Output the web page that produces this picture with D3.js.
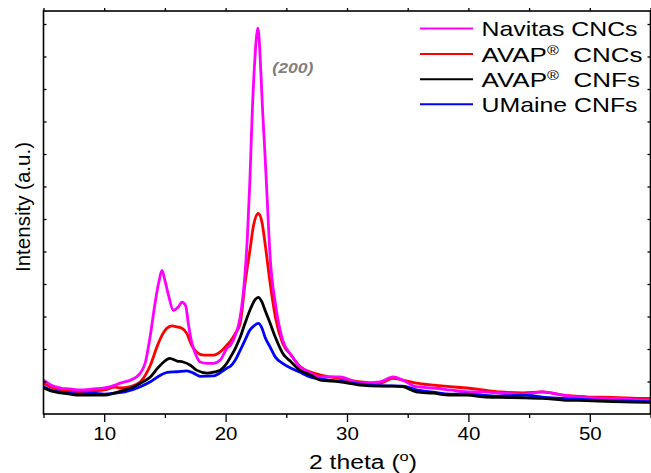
<!DOCTYPE html>
<html>
<head>
<meta charset="utf-8">
<script src="https://cdn.jsdelivr.net/npm/d3@7"></script>
<style>
  html, body { margin: 0; padding: 0; background: #fff; }
  svg { display: block; }
  text { font-family: Arial, "Liberation Sans", sans-serif; }
</style>
</head>
<body>
<svg id="chart" width="651" height="473"></svg>
<script>
// XRD patterns: [2θ (deg), intensity (a.u.)]
const navitasCNC = [
  [5.0,1.04],[5.6,0.89],[6.4,0.80],[7.2,0.77],[8.0,0.74],[9.1,0.77],[10.0,0.80],[10.9,0.89],
  [11.3,0.95],[11.7,0.99],[12.15,1.04],[12.98,1.26],[13.4,1.60],[13.8,2.42],[14.2,3.44],
  [14.5,4.06],[14.76,4.42],[15.0,4.11],[15.3,3.65],[15.7,3.19],[16.1,3.29],[16.4,3.44],
  [16.7,3.34],[16.95,2.73],[17.2,2.22],[17.5,1.87],[17.9,1.60],[18.46,1.56],[19.0,1.56],
  [19.56,1.66],[20.1,2.02],[20.4,2.12],[20.8,2.42],[21.2,2.98],[21.6,4.33],[21.8,5.49],
  [22.0,7.18],[22.2,9.33],[22.4,10.86],[22.55,11.63],[22.65,11.87],[22.75,11.63],[22.9,10.55],
  [23.05,9.33],[23.25,7.94],[23.4,6.81],[23.67,4.82],[24.1,3.40],[24.7,2.27],[25.4,1.81],
  [26.1,1.47],[27.0,1.26],[27.8,1.14],[29.4,1.14],[31.1,0.95],[32.7,0.99],[33.8,1.14],
  [34.6,1.04],[35.7,0.84],[37.1,0.80],[38.5,0.74],[39.9,0.68],[41.2,0.68],[42.6,0.64],
  [44.5,0.61],[46.1,0.68],[47.8,0.58],[49.7,0.50],[51.9,0.48],[54.7,0.43],[55.0,0.43]
];
const avapCNC = [
  [5.0,0.95],[5.6,0.83],[6.4,0.74],[7.2,0.71],[8.0,0.67],[9.1,0.71],[10.0,0.74],[10.9,0.83],
  [11.3,0.80],[12.15,0.84],[12.98,0.99],[13.4,1.20],[13.8,1.50],[14.4,2.12],[14.76,2.42],
  [15.2,2.65],[15.6,2.71],[16.0,2.68],[16.4,2.64],[16.8,2.48],[17.2,2.12],[17.6,1.91],
  [18.2,1.81],[19.0,1.81],[19.56,1.91],[20.1,2.12],[20.4,2.24],[20.8,2.48],[21.2,2.79],
  [21.6,4.02],[22.0,5.03],[22.3,5.80],[22.7,6.17],[23.0,5.89],[23.25,5.25],[23.67,4.02],
  [24.1,2.98],[24.7,2.18],[25.4,1.81],[26.1,1.47],[27.0,1.29],[27.8,1.20],[29.4,1.10],
  [31.1,0.99],[32.7,0.95],[33.8,1.10],[34.6,1.04],[35.7,0.95],[37.1,0.89],[38.5,0.84],
  [39.9,0.80],[41.2,0.74],[42.6,0.68],[44.5,0.65],[46.1,0.68],[47.8,0.58],[49.7,0.53],
  [51.9,0.51],[54.7,0.48],[55.0,0.48]
];
const avapCNF = [
  [5.0,0.80],[5.6,0.71],[6.4,0.65],[7.2,0.61],[8.0,0.58],[9.1,0.58],[10.0,0.58],[10.9,0.65],
  [11.7,0.74],[12.4,0.83],[13.0,0.95],[13.8,1.14],[14.4,1.41],[14.9,1.60],[15.4,1.71],
  [16.0,1.63],[16.5,1.60],[17.1,1.50],[17.6,1.35],[18.5,1.26],[19.0,1.29],[19.56,1.35],
  [20.1,1.56],[20.4,1.75],[20.8,2.02],[21.2,2.36],[21.6,2.79],[22.0,3.19],[22.3,3.44],
  [22.7,3.59],[23.0,3.44],[23.25,3.19],[23.67,2.79],[24.1,2.36],[24.7,1.87],[25.4,1.60],
  [26.1,1.35],[27.0,1.20],[27.8,1.04],[29.4,0.99],[31.1,0.89],[32.7,0.86],[33.8,0.86],
  [34.6,0.84],[35.7,0.68],[37.1,0.64],[38.5,0.58],[39.9,0.58],[41.2,0.53],[42.6,0.51],
  [44.5,0.50],[46.1,0.48],[47.8,0.43],[49.7,0.41],[51.9,0.38],[54.7,0.36],[55.0,0.36]
];
const umaineCNF = [
  [5.0,0.84],[5.6,0.74],[6.4,0.67],[7.2,0.64],[8.0,0.61],[9.1,0.64],[10.0,0.61],[10.9,0.64],
  [11.7,0.68],[12.98,0.84],[13.8,0.99],[14.4,1.14],[15.2,1.28],[16.0,1.30],[16.8,1.33],
  [17.4,1.25],[17.9,1.16],[19.0,1.17],[20.1,1.41],[20.4,1.47],[20.8,1.66],[21.2,1.96],
  [21.6,2.27],[22.0,2.58],[22.3,2.70],[22.7,2.79],[23.0,2.64],[23.25,2.36],[23.67,2.06],
  [24.1,1.75],[24.7,1.56],[25.4,1.41],[26.1,1.29],[27.0,1.13],[27.8,1.07],[29.4,1.01],
  [31.1,0.92],[32.7,0.87],[34.6,0.86],[35.7,0.74],[37.1,0.67],[38.5,0.61],[39.9,0.61],
  [41.2,0.58],[42.6,0.55],[44.5,0.58],[46.1,0.52],[47.8,0.48],[49.7,0.44],[51.9,0.41],
  [54.7,0.38],[55.0,0.38]
];

// legend order (top to bottom) and drawing order
const seriesNames = ["Navitas CNCs", "AVAP® CNCs", "AVAP® CNFs", "UMaine CNFs"];
const seriesData = [navitasCNC, avapCNC, avapCNF, umaineCNF];
const seriesColors = ["#ff00ff", "#ff0000", "#000000", "#0000ff"];
const drawOrder = [1, 0, 3, 2];

const xMajorTicks = [10, 20, 30, 40, 50];
const xMinorTicks = [5, 15, 25, 35, 45, 55];
const xTickLabels = ["10", "20", "30", "40", "50"];
const yTicks = [1, 2, 3, 4, 5, 6, 7, 8, 9, 10, 11, 12];
const peakLabel = "(200)";
const peakPos = [23.85, 10.5];

const svg = d3.select("#chart");
const plotLeft = 43.5, plotRight = 650.5, plotTop = 11, plotBottom = 414;

const x = d3.scaleLinear().domain([5, 55]).range([plotLeft, plotRight]);
const y = d3.scaleLinear().domain([0, 12.4]).range([plotBottom, plotTop]);

// curves
const line = d3.line()
  .x(d => x(d[0]))
  .y(d => y(d[1]))
  .curve(d3.curveMonotoneX);

const plot = svg.append("g");
drawOrder.forEach(i => {
  plot.append("path")
    .datum(seriesData[i])
    .attr("fill", "none")
    .attr("stroke", seriesColors[i])
    .attr("stroke-width", 2.8)
    .attr("stroke-linejoin", "round")
    .attr("d", line);
});

// axes
function styleAxis(g) {
  g.select(".domain").remove();
  g.selectAll(".tick line").attr("stroke", "#000").attr("stroke-width", 1.3);
}

const xMajor = svg.append("g")
  .attr("transform", `translate(0,${plotBottom})`)
  .call(d3.axisBottom(x).tickValues(xMajorTicks).tickSize(8)
    .tickFormat((d, i) => xTickLabels[i]).tickPadding(5))
  .call(styleAxis);
xMajor.selectAll(".tick text")
  .attr("fill", "#000")
  .style("font-size", "18px")
  .attr("transform", "scale(1.14,1)");

svg.append("g")
  .attr("transform", `translate(0,${plotBottom})`)
  .call(d3.axisBottom(x).tickValues(xMinorTicks).tickSize(4).tickFormat(""))
  .call(styleAxis);

svg.append("g")
  .attr("transform", `translate(0,${plotTop})`)
  .call(d3.axisTop(x).tickValues(xMinorTicks.concat(xMajorTicks)).tickSize(3).tickFormat(""))
  .call(styleAxis);

svg.append("g")
  .attr("transform", `translate(${plotLeft},0)`)
  .call(d3.axisLeft(y).tickValues(yTicks).tickSize(-3).tickFormat(""))
  .call(styleAxis);

svg.append("g")
  .attr("transform", `translate(${plotRight},0)`)
  .call(d3.axisRight(y).tickValues(yTicks).tickSize(-3).tickFormat(""))
  .call(styleAxis);

// frame
svg.append("rect")
  .attr("x", plotLeft).attr("y", plotTop)
  .attr("width", plotRight - plotLeft).attr("height", plotBottom - plotTop)
  .attr("fill", "none").attr("stroke", "#000").attr("stroke-width", 1.6);

// axis titles
const xt = svg.append("text")
  .attr("x", 363).attr("y", 469)
  .attr("text-anchor", "middle")
  .attr("textLength", 108).attr("lengthAdjust", "spacingAndGlyphs")
  .style("font-size", "19.5px");
xt.append("tspan").text("2 theta (");
xt.append("tspan").attr("dy", -8).style("font-size", "13px").text("o");
xt.append("tspan").attr("dy", 8).text(")");

svg.append("text")
  .attr("transform", "translate(29.5,207) rotate(-90)")
  .attr("text-anchor", "middle")
  .attr("textLength", 130).attr("lengthAdjust", "spacingAndGlyphs")
  .style("font-size", "20.5px")
  .text("Intensity (a.u.)");

// peak annotation
svg.append("text")
  .attr("x", x(peakPos[0])).attr("y", y(peakPos[1]))
  .attr("textLength", 41).attr("lengthAdjust", "spacingAndGlyphs")
  .attr("fill", "#7f7f7f")
  .style("font-size", "15px").style("font-weight", "bold").style("font-style", "italic")
  .text(peakLabel);

// legend
const legendRows = [
  { base: 36, width: 156 },
  { base: 61.5, width: 161 },
  { base: 86.7, width: 158.5 },
  { base: 111.7, width: 156 }
];
const legend = svg.append("g");
seriesNames.forEach((name, i) => {
  const r = legendRows[i];
  legend.append("line")
    .attr("x1", 420).attr("x2", 473)
    .attr("y1", r.base - 7.5).attr("y2", r.base - 7.5)
    .attr("stroke", seriesColors[i]).attr("stroke-width", 2);
  const t = legend.append("text")
    .attr("x", 481.5).attr("y", r.base)
    .attr("textLength", r.width).attr("lengthAdjust", "spacingAndGlyphs")
    .attr("fill", "#000")
    .style("font-size", "21px");
  const parts = name.split("®");
  if (parts.length > 1) {
    t.append("tspan").text(parts[0]);
    t.append("tspan").attr("dy", -7).style("font-size", "13px").text("®");
    t.append("tspan").attr("dy", 7).text("\u00a0" + parts[1]);
  } else {
    t.text(name);
  }
});
</script>
</body>
</html>
